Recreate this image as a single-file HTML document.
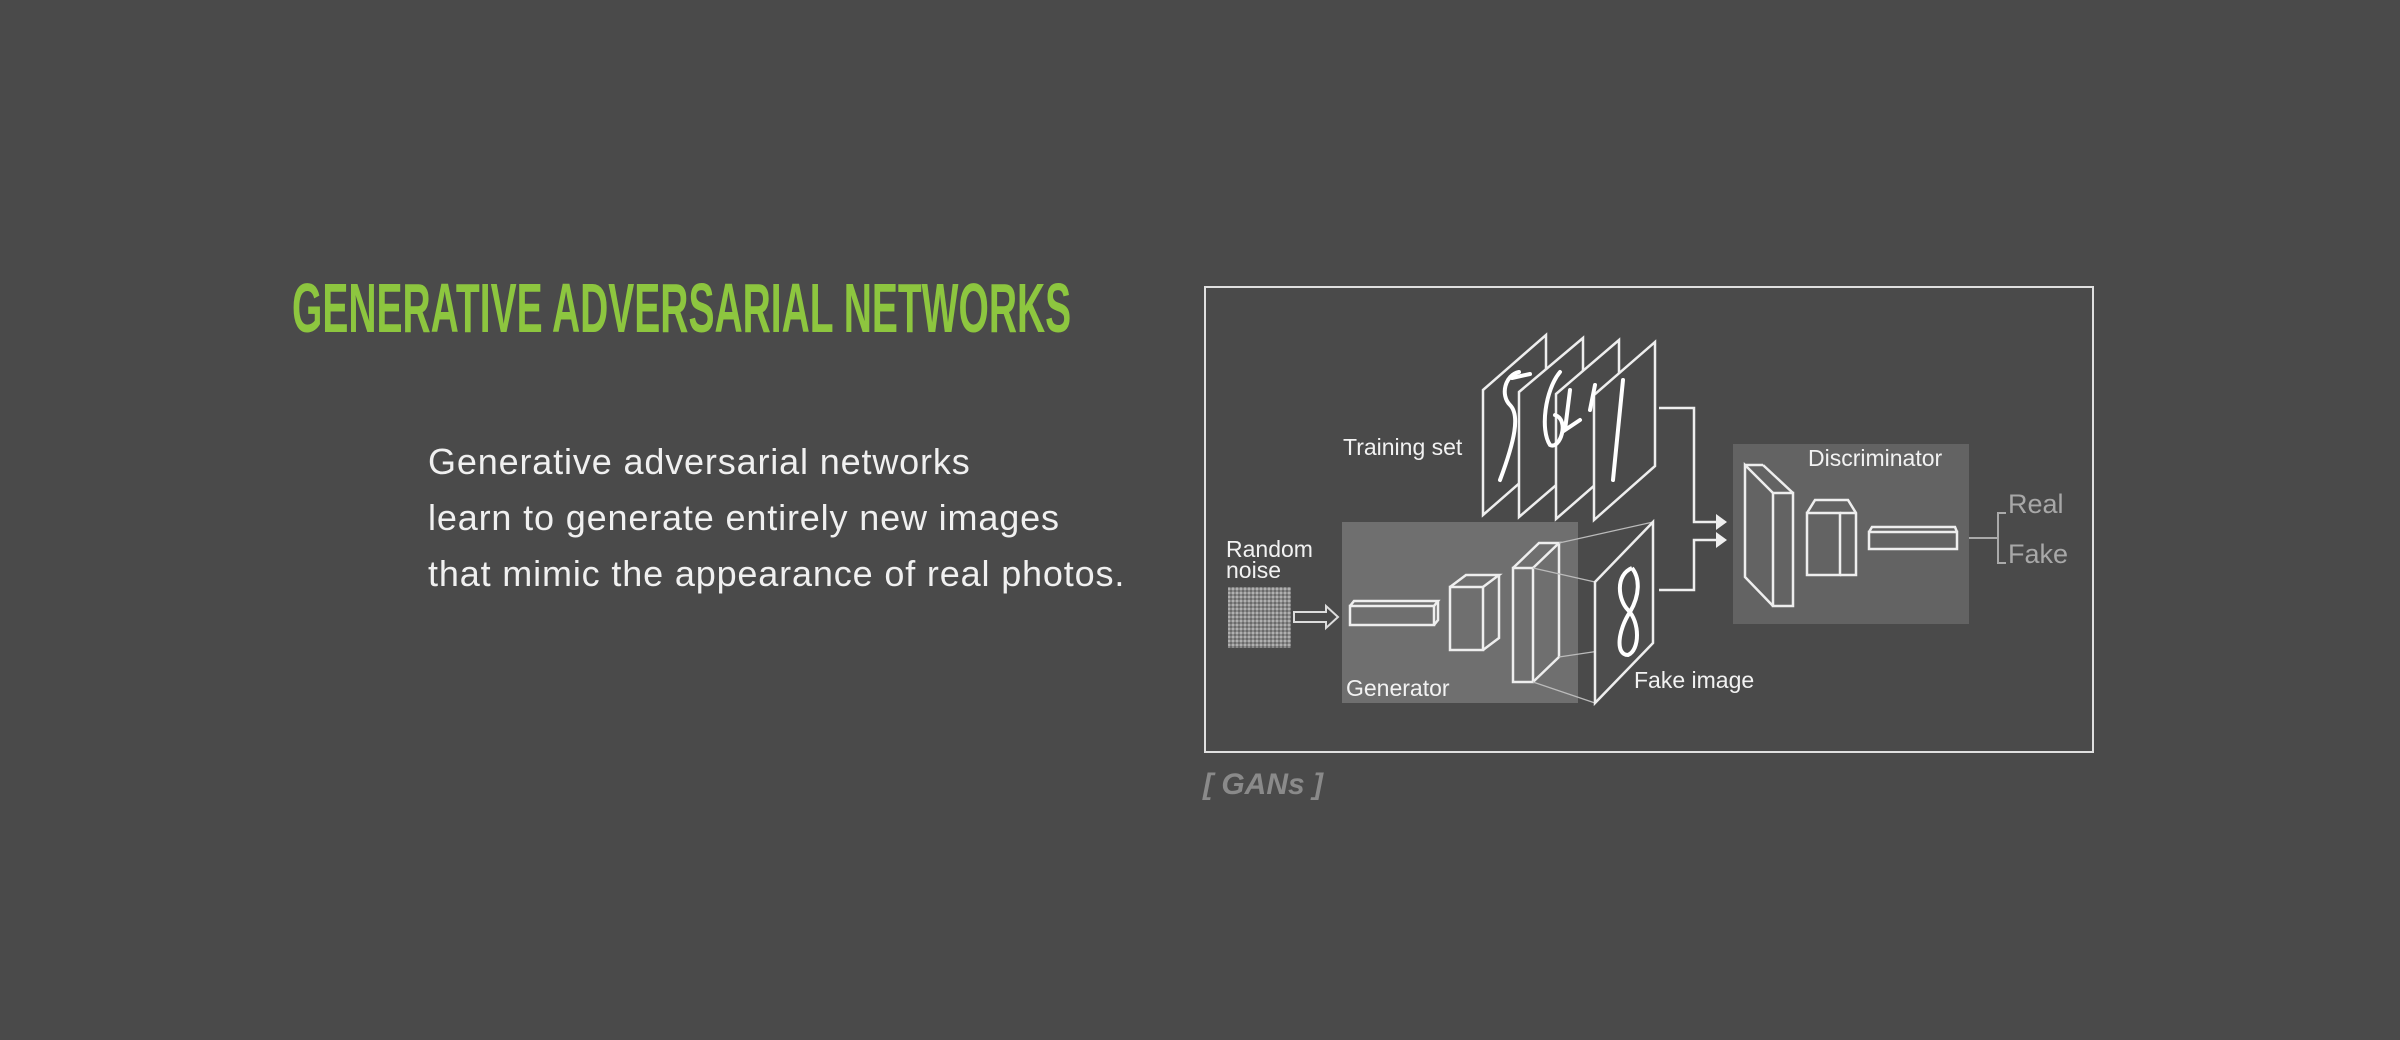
<!DOCTYPE html>
<html><head><meta charset="utf-8"><style>
html,body{margin:0;padding:0;}
body{width:2400px;height:1040px;background:#4a4a4a;position:relative;overflow:hidden;font-family:"Liberation Sans",sans-serif;}
.title{position:absolute;left:292px;top:268px;font-family:"Liberation Sans",sans-serif;font-weight:bold;font-size:70px;color:#8dc63f;white-space:nowrap;transform-origin:0 0;transform:scaleX(0.557);}
.body{position:absolute;left:428px;top:434px;font-size:36px;line-height:56px;color:#f0f0f0;white-space:nowrap;letter-spacing:0.85px;}
</style></head><body>
<div class="title">GENERATIVE ADVERSARIAL NETWORKS</div>
<div class="body">Generative adversarial networks<br>learn to generate entirely new images<br>that mimic the appearance of real photos.</div>
<svg width="2400" height="1040" style="position:absolute;left:0;top:0" xmlns="http://www.w3.org/2000/svg">
<defs><pattern id="nz" width="4" height="4" patternUnits="userSpaceOnUse"><rect width="4" height="4" fill="#8a8a8a"/><rect width="2" height="2" fill="#b0b0b0"/><rect x="2" y="2" width="2" height="2" fill="#6a6a6a"/></pattern></defs>
<rect x="1205" y="287" width="888" height="465" fill="none" stroke="#e0e0e0" stroke-width="2"/>
<text x="1203" y="794" font-family="Liberation Sans" font-style="italic" font-weight="bold" font-size="30" fill="#8a8a8a">[ GANs ]</text>
<rect x="1342" y="522" width="236" height="181" fill="#6f6f6f"/>
<rect x="1733" y="444" width="236" height="180" fill="#636363"/>
<g fill="none" stroke="#eeeeee" stroke-width="2.5">
<polygon points="1483,390 1546,335 1546,460 1483,515" fill="#4a4a4a"/>
<polygon points="1519,392 1583,338 1583,462 1519,517" fill="#4a4a4a"/>
<polygon points="1556,394 1619,340 1619,464 1556,519" fill="#4a4a4a"/>
<polygon points="1594,395 1655,342 1655,466 1594,520" fill="#4a4a4a"/>
</g>
<g fill="none" stroke="#ffffff" stroke-width="4" stroke-linecap="round">
<path d="M1519,372 C1505,375 1500,395 1510,405 C1520,415 1515,440 1500,480 M1512,378 L1530,374"/>
<path d="M1560,372 C1545,390 1540,430 1550,445 C1560,450 1570,420 1555,415"/>
<path d="M1570,390 L1565,430 L1580,420 M1595,385 L1590,410"/>
<path d="M1623,380 L1613,480"/>
</g>
<g fill="none" stroke="#eeeeee" stroke-width="2.5">
<polyline points="1659,408 1694,408 1694,522 1718,522"/>
<polyline points="1659,590 1694,590 1694,540 1718,540"/>
</g>
<polygon points="1716,514 1727,522 1716,530" fill="#eeeeee"/>
<polygon points="1716,532 1727,540 1716,548" fill="#eeeeee"/>
<text x="1226" y="557" font-size="23" fill="#f2f2f2">Random</text>
<text x="1226" y="578" font-size="23" fill="#f2f2f2">noise</text>
<rect x="1228" y="587" width="63" height="61" fill="url(#nz)"/>
<polygon points="1294,612 1326,612 1326,606 1338,617 1326,628 1326,622 1294,622" fill="none" stroke="#dddddd" stroke-width="2"/>
<g fill="none" stroke="#eeeeee" stroke-width="2.5">
<rect x="1350" y="606" width="84" height="19"/><polyline points="1350,606 1354,601 1438,601 1434,606"/><polyline points="1434,625 1438,620 1438,601"/>
<rect x="1450" y="587" width="33" height="63"/><polyline points="1450,587 1466,575 1499,575 1483,587"/><polyline points="1483,650 1499,638 1499,575"/>
<rect x="1513" y="568" width="20" height="114"/><polyline points="1513,568 1539,543 1559,543 1533,568"/><polyline points="1533,682 1559,657 1559,543"/>
</g>
<g stroke="#bbbbbb" stroke-width="1.2" fill="none">
<line x1="1559" y1="543" x2="1653" y2="522"/><line x1="1533" y1="568" x2="1595" y2="582"/><line x1="1559" y1="657" x2="1653" y2="643"/><line x1="1533" y1="682" x2="1595" y2="703"/>
</g>
<polygon points="1595,582 1653,522 1653,643 1595,703" fill="#4d4d4d" stroke="#eeeeee" stroke-width="2.5"/>
<path d="M1632,568 C1615,575 1618,600 1628,610 C1640,622 1640,650 1628,655 C1615,655 1618,630 1630,612 C1640,595 1640,578 1632,568" fill="none" stroke="#ffffff" stroke-width="4"/>
<text x="1346" y="696" font-size="23" fill="#f2f2f2">Generator</text>
<text x="1634" y="688" font-size="23" fill="#f2f2f2">Fake image</text>
<text x="1343" y="455" font-size="23" fill="#f2f2f2">Training set</text>
<text x="1808" y="466" font-size="23" fill="#f2f2f2">Discriminator</text>
<g fill="none" stroke="#eeeeee" stroke-width="2.5">
<rect x="1773" y="493" width="20" height="113"/><polyline points="1773,493 1745,465 1745,577 1773,606"/><line x1="1745" y1="465" x2="1763" y2="465"/><line x1="1763" y1="465" x2="1793" y2="493"/>
<rect x="1807" y="513" width="33" height="62"/><polyline points="1807,513 1815,500 1848,500 1856,513 1856,575 1840,575"/><line x1="1840" y1="513" x2="1856" y2="513"/>
<rect x="1869" y="532" width="88" height="17"/><polyline points="1869,532 1872,527 1955,527 1957,532"/>
</g>
<g fill="none" stroke="#aaaaaa" stroke-width="2">
<line x1="1969" y1="538" x2="1998" y2="538"/><polyline points="2006,513 1998,513 1998,563 2006,563"/>
</g>
<text x="2008" y="513" font-size="27" fill="#a8a8a8">Real</text>
<text x="2008" y="563" font-size="27" fill="#a8a8a8">Fake</text>
</svg>
</body></html>
